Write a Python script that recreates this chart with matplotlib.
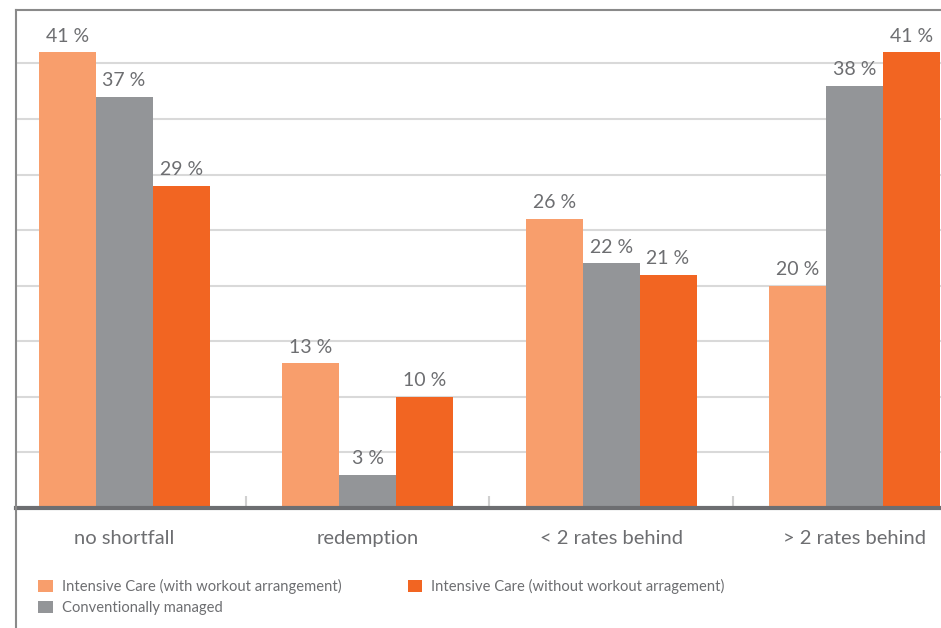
import numpy as np
import matplotlib.pyplot as plt
from matplotlib.lines import Line2D

# data
categories = ['no shortfall', 'redemption', '< 2 rates behind', '> 2 rates behind']
series_names = ['Intensive Care (with workout arrangement)',
                'Conventionally managed',
                'Intensive Care (without workout arragement)']
with_workout = [41, 13, 26, 20]
conventional = [37, 3, 22, 38]
without_workout = [29, 10, 21, 41]

colors = ['#F89E6C', '#939598', '#F26522']
text_color = '#6D6E71'

plt.rcParams['font.family'] = ['Lato', 'DejaVu Sans']

fig = plt.figure(figsize=(9.41, 6.28), dpi=100)
W, H = 941, 628
ax = fig.add_axes([16 / W, (H - 508) / H, 1 - 16 / W, 498 / H])

x = np.arange(len(categories))
width = 0.234
series = [with_workout, conventional, without_workout]
for i, (vals, col) in enumerate(zip(series, colors)):
    pos = x + (i - 1) * width
    bars = ax.bar(pos, vals, width=width, color=col, zorder=3, label=series_names[i])
    for b, v in zip(bars, vals):
        ax.annotate(f'{v} %', (b.get_x() + b.get_width() / 2, v),
                    xytext=(0, 5.5), textcoords='offset points',
                    ha='center', va='bottom', fontsize=14, color=text_color)

ax.set_xlim(-0.444, 3.355)
ax.set_ylim(0, 44.8)
ax.set_yticks(np.arange(5, 45, 5))
ax.yaxis.grid(True, color='#D9D9D9', linewidth=1.5, zorder=0)
ax.tick_params(axis='y', length=0, labelleft=False)
ax.set_xticks(x)
ax.set_xticklabels(categories, fontsize=14.5, color=text_color)
ax.tick_params(axis='x', length=0, pad=16)

# short separators between groups
ax.vlines(x[:-1] + 0.5, 0, 1.1, color='#D0D0D0', linewidth=1.5, zorder=2)

ax.spines['right'].set_visible(False)
ax.spines['left'].set_visible(False)
ax.spines['top'].set_color('#8A8A8A')
ax.spines['top'].set_linewidth(1.5)
ax.spines['bottom'].set_color('#6D6E71')
ax.spines['bottom'].set_linewidth(3)
ax.spines['bottom'].set_zorder(4)

# left border running to the bottom of the figure
fig.add_artist(Line2D([16 / W, 16 / W], [0, (H - 10) / H], transform=fig.transFigure,
                      color='#8A8A8A', linewidth=1.5))

handles, labels = ax.get_legend_handles_labels()
leg = fig.legend(handles, labels, ncol=2, loc='upper left',
                 bbox_to_anchor=(25 / W, (H - 566) / H), frameon=False,
                 fontsize=10.6, handlelength=1.0, handleheight=0.9, handletextpad=0.6,
                 columnspacing=4.5, labelspacing=0.45)
for t in leg.get_texts():
    t.set_color(text_color)

fig.savefig('out.png', dpi=100)
